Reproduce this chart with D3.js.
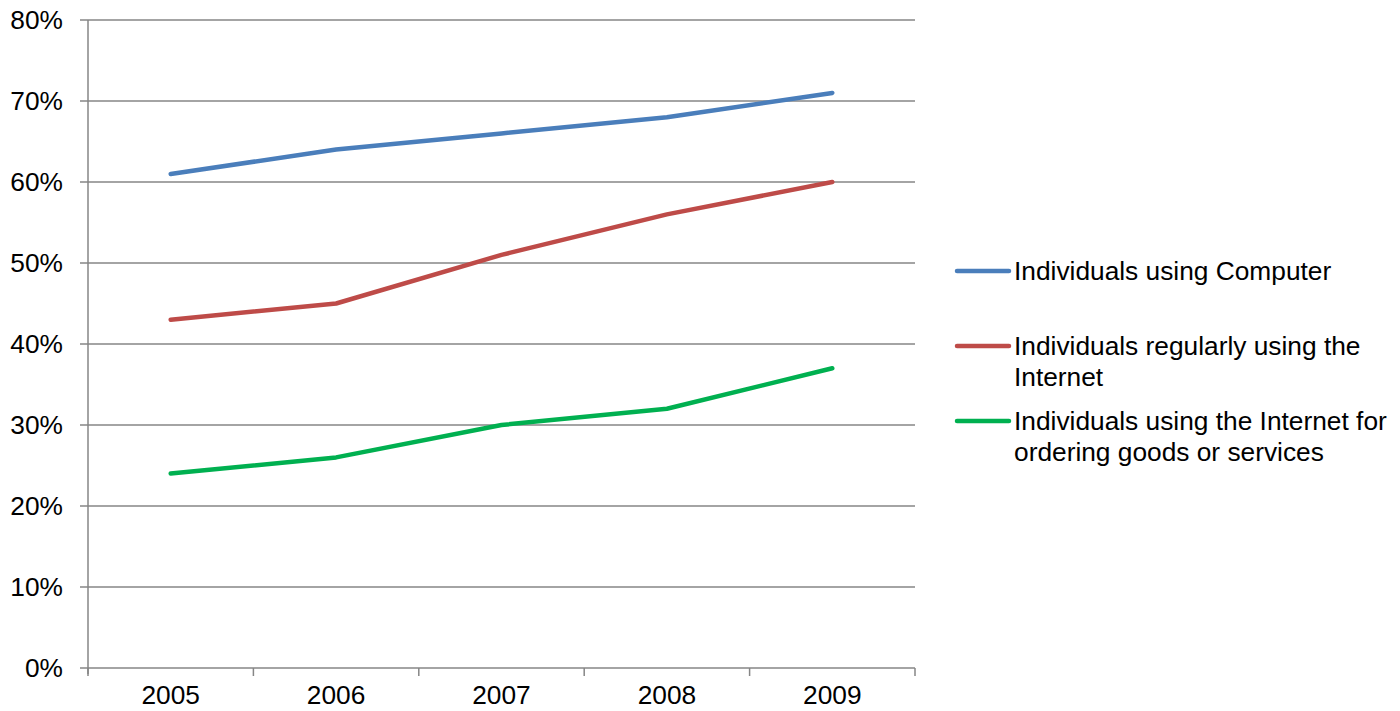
<!DOCTYPE html>
<html><head><meta charset="utf-8">
<script src="https://cdn.jsdelivr.net/npm/d3@7"></script>
<style>body{margin:0;background:#fff}svg{display:block}text{font-family:"Liberation Sans",Arial,sans-serif}</style>
</head><body><svg id="c" width="1400" height="711"></svg>
<script>
const years = ["2005","2006","2007","2008","2009"];
const computer = [0.61,0.64,0.66,0.68,0.71];
const internet = [0.43,0.45,0.51,0.56,0.60];
const ordering = [0.24,0.26,0.30,0.32,0.37];
const seriesNames = [["Individuals using Computer"],["Individuals regularly using the","Internet"],["Individuals using the Internet for","ordering goods or services"]];
const colors = ["#4A7EBB","#BE4B48","#00B050"];
const yTicks = [0,0.1,0.2,0.3,0.4,0.5,0.6,0.7,0.8];

const svg = d3.select("#c");
const L=88,R=915,T=20,B=668;
const FS=26.3;
const x = d3.scaleBand().domain(years).range([L,R]);
const y = d3.scaleLinear().domain([0,0.8]).range([B,T]);
const grid="#868686";

svg.append("g").selectAll("line").data(yTicks).join("line")
 .attr("x1",L-8).attr("x2",R).attr("y1",d=>y(d)).attr("y2",d=>y(d))
 .attr("stroke",grid).attr("stroke-width",1.5);
svg.append("line").attr("x1",L).attr("x2",L).attr("y1",T).attr("y2",B+6).attr("stroke",grid).attr("stroke-width",1.5);
const bounds = years.map(d=>x(d)).concat([R]);
svg.append("g").selectAll("line").data(bounds).join("line")
 .attr("x1",d=>d).attr("x2",d=>d).attr("y1",B).attr("y2",B+8).attr("stroke",grid).attr("stroke-width",1.5);

svg.append("g").selectAll("text").data(yTicks).join("text")
 .attr("x",63).attr("y",d=>y(d)).attr("dy","0.36em").attr("text-anchor","end")
 .attr("font-size",FS).attr("fill","#000").text(d3.format(".0%"));
svg.append("g").selectAll("text").data(years).join("text")
 .attr("x",d=>x(d)+x.bandwidth()/2).attr("y",704).attr("text-anchor","middle")
 .attr("font-size",FS).attr("fill","#000").text(d=>d);

const line = d3.line().x((d,i)=>x(years[i])+x.bandwidth()/2).y(d=>y(d));
[computer,internet,ordering].forEach((s,i)=>{
  svg.append("path").attr("d",line(s)).attr("fill","none").attr("stroke",colors[i])
   .attr("stroke-width",4.5).attr("stroke-linecap","round").attr("stroke-linejoin","round");
});

const legY=[271,346,421];
seriesNames.forEach((lines,i)=>{
  svg.append("line").attr("x1",957).attr("x2",1009).attr("y1",legY[i]).attr("y2",legY[i])
   .attr("stroke",colors[i]).attr("stroke-width",4.5).attr("stroke-linecap","round");
  lines.forEach((t,j)=>{
    svg.append("text").attr("x",1014).attr("y",legY[i]+j*31).attr("dy","0.36em")
     .attr("font-size",FS).attr("fill","#000").text(t);
  });
});
</script></body></html>
